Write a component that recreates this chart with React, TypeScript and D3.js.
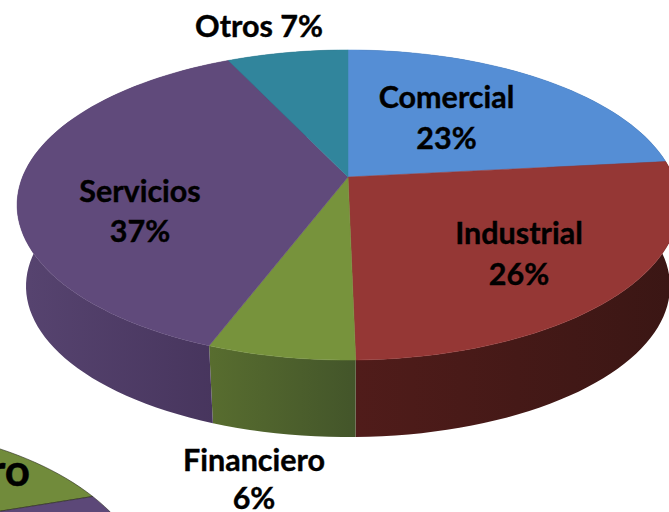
import React from "react";
import * as d3 from "d3";

const categories = ["Comercial", "Industrial", "Financiero", "Servicios", "Otros"];
// sector sizes as measured on the picture, the printed labels are the rounded ones
const shares = [23.33, 26.36, 6.08, 37.2, 7.03];
const topColors = ["#558ed5", "#953735", "#77933c", "#604a7b", "#31859c"];
const wallLeft = ["#31557f", "#501c1a", "#586d2f", "#574470", "#1d5060"];
const wallRight = ["#2a4a70", "#3a1614", "#43552a", "#46345c", "#1d5060"];

// fragment of the neighbouring pie, cut off by the bottom left corner
const insetCategories = ["Financiero", "Servicios"];
const insetShares = [64, 56];
const insetColors = ["#718b3b", "#5c4878"];

const width = 669;
const height = 512;
const rad = Math.PI / 180;

// tilted disc, near side drawn bigger than far side
const hub = { x: 348, y: 177 };
const radiusX = 325.5;
const radiusY = 150;
const persp = 0.1806;
const wallHub = { x: 348, y: 259 };
const wallScale = 0.973;

const rim = (a: number, c: { x: number; y: number }, k: number): [number, number] => {
  const s = 1 / (1 + persp * Math.cos(a));
  return [c.x + k * radiusX * Math.sin(a) * s, c.y - k * radiusY * Math.cos(a) * s];
};

const arcAngles = (a0: number, a1: number) => {
  const n = Math.max(2, Math.ceil((a1 - a0) / (rad * 2)));
  return d3.range(n + 1).map((i) => a0 + ((a1 - a0) * i) / n);
};

const line = d3.line();

const slices = d3.pie<number>().sort(null)(shares);

const insetEllipse = { cx: -150, cy: 597, rx: 300, ry: 171, hubX: -150, hubY: 535 };
const insetSlices = d3
  .pie<number>()
  .sort(null)
  .startAngle(-10 * rad)
  .endAngle(110 * rad)(insetShares);

const labels = [
  { lines: ["Otros 7%"], x: 259, y: 37, gap: 41 },
  { lines: ["Comercial", "23%"], x: 446.5, y: 108, gap: 41 },
  { lines: ["Industrial", "26%"], x: 519, y: 244, gap: 41 },
  { lines: ["Servicios", "37%"], x: 140, y: 202, gap: 40 },
  { lines: ["Financiero", "6%"], x: 254, y: 471, gap: 38 },
];

// side wall: one quad per arc step, so the tangent edges at the far left and right fill in
const wallPath = (a0: number, a1: number) => {
  const angles = arcAngles(a0, a1);
  return d3
    .pairs(angles)
    .map(([p, q]) => line([rim(p, hub, 1), rim(q, hub, 1), rim(q, wallHub, wallScale), rim(p, wallHub, wallScale)]) + "Z")
    .join("");
};

export default function App() {
  return (
    <svg
      width={width}
      height={height}
      style={{ position: "absolute", left: 0, top: 0, background: "#fff" }}
      fontFamily="Lato, 'Open Sans', sans-serif"
      fontWeight={700}
      fontSize={30.5}
      stroke="none"
    >
      <defs>
        {slices.map((d, i) => {
          const xs = arcAngles(d.startAngle, d.endAngle).map((a) => rim(a, hub, 1)[0]);
          return (
            <linearGradient
              key={i}
              id={`wall${i}`}
              gradientUnits="userSpaceOnUse"
              x1={d3.min(xs)}
              x2={d3.max(xs)}
              y1={0}
              y2={0}
            >
              <stop offset="0%" stopColor={wallLeft[i]} />
              <stop offset="100%" stopColor={wallRight[i]} />
            </linearGradient>
          );
        })}
      </defs>

      <g>
        {slices.map((d, i) => (
          <path key={categories[i]} d={wallPath(d.startAngle, d.endAngle)} fill={`url(#wall${i})`} />
        ))}
      </g>

      <g>
        {slices.map((d, i) => {
          const pts = arcAngles(d.startAngle, d.endAngle).map((a) => rim(a, hub, 1));
          return (
            <path
              key={categories[i]}
              d={line([[hub.x, hub.y], ...pts]) + "Z"}
              fill={topColors[i]}
              stroke={topColors[i]}
              strokeWidth={0.5}
            />
          );
        })}
      </g>

      <g>
        {insetSlices.map((d, i) => {
          const pts = arcAngles(d.startAngle, d.endAngle).map((a): [number, number] => [
            insetEllipse.cx + insetEllipse.rx * Math.sin(a),
            insetEllipse.cy - insetEllipse.ry * Math.cos(a),
          ]);
          return (
            <path
              key={insetCategories[i]}
              d={line([[insetEllipse.hubX, insetEllipse.hubY], ...pts]) + "Z"}
              fill={insetColors[i]}
              stroke="#2b2b20"
              strokeWidth={0.6}
            />
          );
        })}
      </g>

      <text x={30} y={486} textAnchor="end" fill="#000" fontSize={44} stroke="#000" strokeWidth={0.4}>
        ro
      </text>

      {labels.map((l) => (
        <text key={l.lines[0]} textAnchor="middle" fill="#000" stroke="#000" strokeWidth={0.4}>
          {l.lines.map((t, j) => (
            <tspan key={t} x={l.x} y={l.y + j * l.gap}>
              {t}
            </tspan>
          ))}
        </text>
      ))}
    </svg>
  );
}
